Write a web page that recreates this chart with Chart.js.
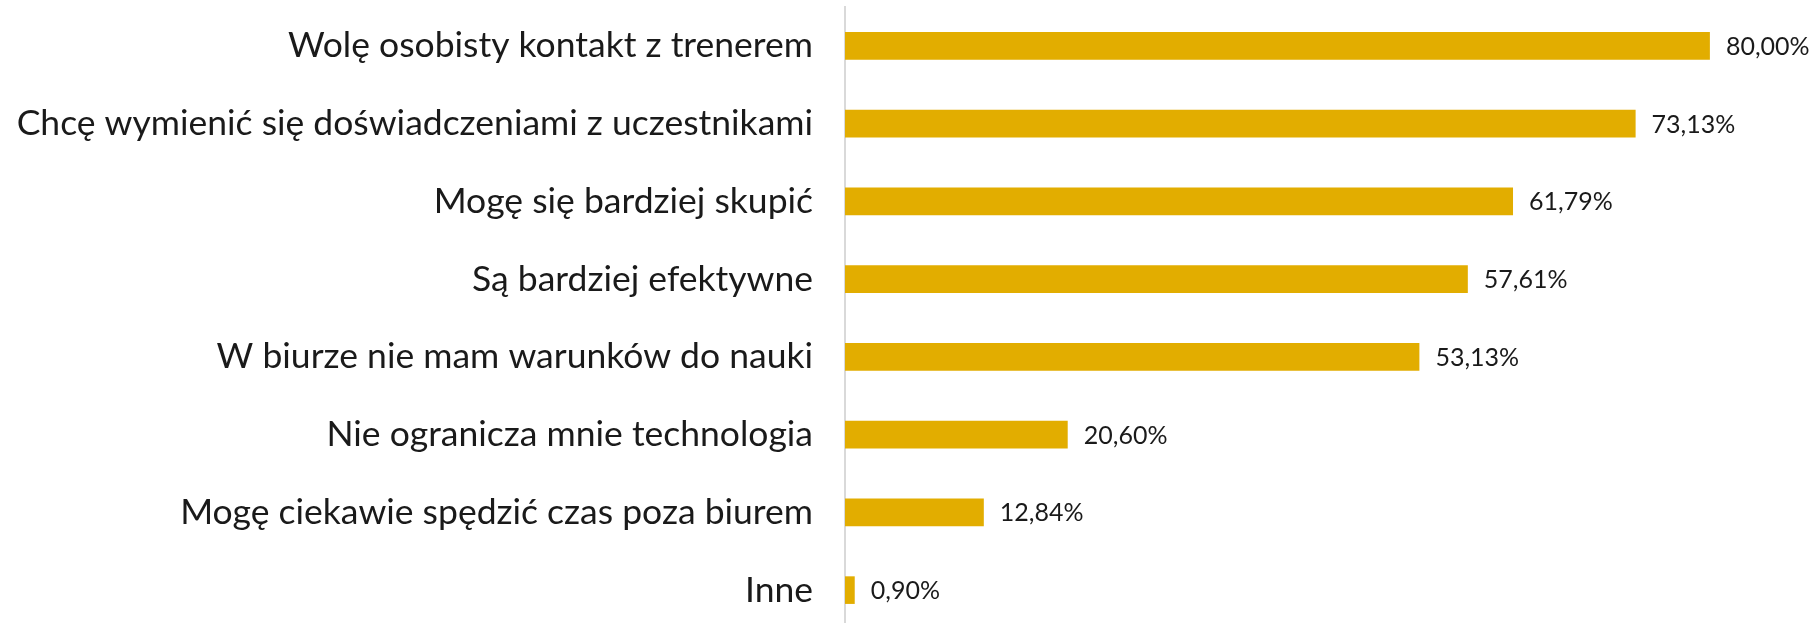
<!DOCTYPE html>
<html>
<head>
<meta charset="utf-8">
<script src="https://cdn.jsdelivr.net/npm/chart.js@4.4.1/dist/chart.umd.min.js"></script>
<style>
  html, body { margin: 0; padding: 0; background: #ffffff; overflow: hidden; }
  #wrap { position: relative; width: 1818px; height: 629px; }
</style>
</head>
<body>
<div id="wrap"><canvas id="chart"></canvas></div>
<script>
// Survey answers and their shares (percent)
const categories = [
  'Wolę osobisty kontakt z trenerem',
  'Chcę wymienić się doświadczeniami z uczestnikami',
  'Mogę się bardziej skupić',
  'Są bardziej efektywne',
  'W biurze nie mam warunków do nauki',
  'Nie ogranicza mnie technologia',
  'Mogę ciekawie spędzić czas poza biurem',
  'Inne'
];
const shares = [80.00, 73.13, 61.79, 57.61, 53.13, 20.60, 12.84, 0.90];
const valueLabels = ['80,00%', '73,13%', '61,79%', '57,61%', '53,13%', '20,60%', '12,84%', '0,90%'];

const FONT = 'Lato, "Noto Sans", sans-serif';

// Writes the percentage just past the end of each bar
const barValueLabels = {
  id: 'barValueLabels',
  afterDatasetsDraw(chart) {
    const ctx = chart.ctx;
    const meta = chart.getDatasetMeta(0);
    ctx.save();
    ctx.font = '25px ' + FONT;
    ctx.fillStyle = '#1a1a1a';
    ctx.textAlign = 'left';
    ctx.textBaseline = 'middle';
    meta.data.forEach((bar, i) => {
      ctx.fillText(valueLabels[i], bar.x + 16, bar.y + 1);
    });
    ctx.restore();
  }
};

new Chart(document.getElementById('chart'), {
  type: 'bar',
  data: {
    labels: categories,
    datasets: [{
      data: shares,
      backgroundColor: '#E2AD00',
      borderWidth: 0,
      barPercentage: 0.355,
      categoryPercentage: 1.0
    }]
  },
  options: {
    indexAxis: 'y',
    responsive: true,
    maintainAspectRatio: false,
    animation: false,
    layout: { padding: { top: 7, right: 0, bottom: 0, left: 0 } },
    plugins: {
      legend: { display: false },
      tooltip: { enabled: false }
    },
    scales: {
      x: {
        display: false,
        min: 0,
        max: 90
      },
      y: {
        afterFit(scale) {
          scale.width = 845;
          scale.paddingTop = 0;
          scale.paddingBottom = 0;
        },
        grid: { display: false, drawTicks: false },
        border: { display: true, color: '#d9d9d9', width: 2 },
        ticks: {
          padding: 32,
          color: '#1a1a1a',
          font: { family: FONT, size: 35.5 }
        }
      }
    }
  },
  plugins: [barValueLabels]
});
</script>
</body>
</html>
